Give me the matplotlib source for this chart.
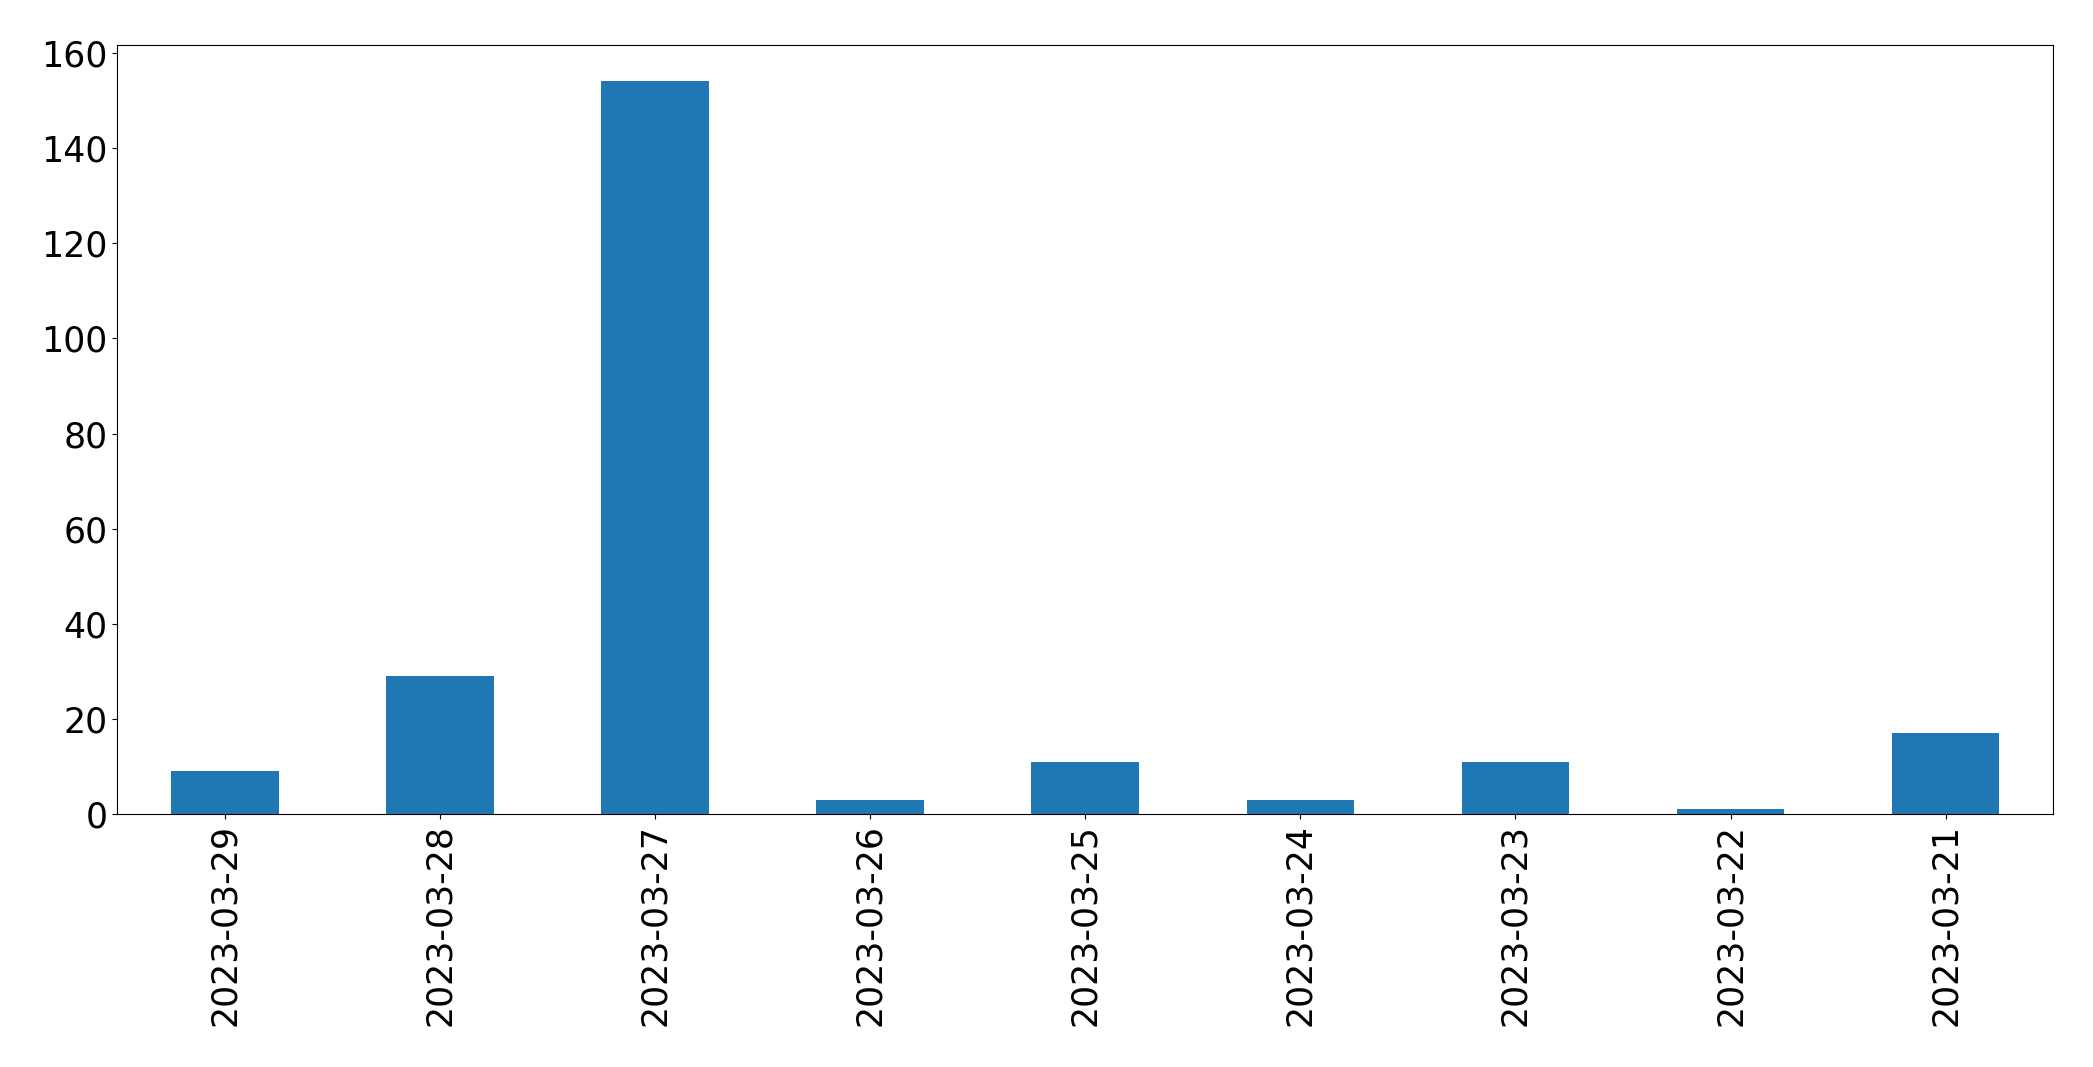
import matplotlib
matplotlib.use("Agg")
import matplotlib.pyplot as plt
import numpy as np

dates = ["2023-03-29", "2023-03-28", "2023-03-27", "2023-03-26", "2023-03-25",
         "2023-03-24", "2023-03-23", "2023-03-22", "2023-03-21"]
counts = [9, 29, 154, 3, 11, 3, 11, 1, 17]

fig, ax = plt.subplots(figsize=(20.93, 10.67), dpi=100)
x = np.arange(len(dates))
ax.bar(x, counts, width=0.5, color="#1f77b4")
ax.set_xlim(-0.5, len(dates) - 0.5)
ax.set_ylim(0, max(counts) * 1.05)
ax.set_xticks(x)
ax.set_xticklabels(dates, rotation=90)
ax.tick_params(axis="both", labelsize=25)

fig.subplots_adjust(left=0.056, right=0.981, top=0.958, bottom=0.237)
fig.savefig("out.png", dpi=100)
